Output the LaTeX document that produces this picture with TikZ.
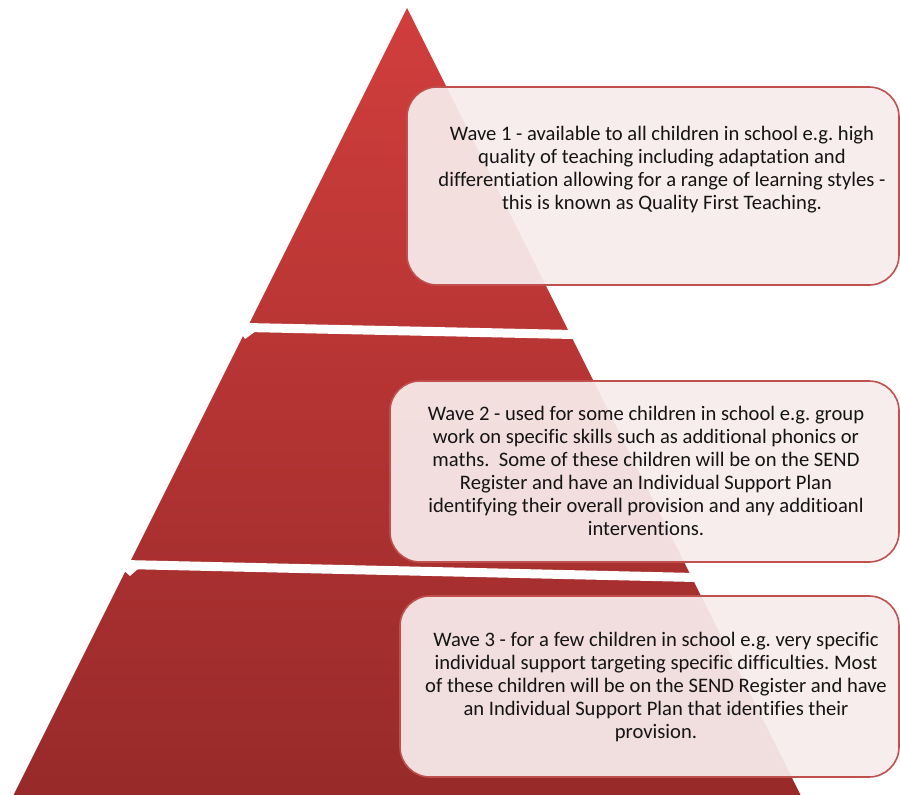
\documentclass[tikz,border=0pt]{standalone}
\usepackage{fontspec}
\setmainfont{Carlito}[RawFeature=-liga]
\definecolor{ptop}{RGB}{208,62,60}
\definecolor{pbot}{RGB}{152,42,42}
\definecolor{boxline}{RGB}{192,80,77}
\definecolor{boxfill}{RGB}{248,236,236}
\definecolor{txt}{RGB}{20,20,20}
\begin{document}
\frenchspacing
\begin{tikzpicture}[x=1pt,y=-1pt,
  wavebox/.style={draw=boxline, line width=1.6pt, fill=boxfill, fill opacity=0.93, rounded corners=30pt},
  wavetext/.style={text=txt, align=center, font=\fontsize{20.6}{23}\selectfont, inner sep=0pt},
  gap/.style={fill=white, draw=none}]
\useasboundingbox (0,0) rectangle (900,795);
% pyramid
\shade[top color=ptop, bottom color=pbot] (407,8) -- (801,796) -- (13,796) -- cycle;
% white gaps between segments
\fill[gap] (200,322) -- (620,331) -- (620,340) -- (200,331) -- cycle;
\fill[gap] (239,330) -- (256,331) -- (245,339) -- cycle;
\fill[gap] (80,559) -- (740,574) -- (740,583) -- (80,568) -- cycle;
\fill[gap] (120,567) -- (139,568) -- (130,576) -- cycle;
% boxes
\draw[wavebox] (407,87) rectangle (899,285);
\draw[wavebox] (390,381) rectangle (899,562);
\draw[wavebox] (400,596) rectangle (899,777);
% texts
\node[wavetext] (t1) at (662,170) {Wave 1 - available to all children in school e.g. high\\quality of teaching including adaptation and\\differentiation allowing for a range of learning styles -\\this is known as Quality First Teaching.};
\node[wavetext] (t2) at (646,471) {Wave 2 - used for some children in school e.g. group\\work on specific skills such as additional phonics or\\maths.\ \ Some of these children will be on the SEND\\Register and have an Individual Support Plan\\identifying their overall provision and any additioanl\\interventions.};
\node[wavetext] (t3) at (656,687) {Wave 3 - for a few children in school e.g. very specific\\individual support targeting specific difficulties. Most\\of these children will be on the SEND Register and have\\an Individual Support Plan that identifies their\\provision.};
\end{tikzpicture}
\end{document}
